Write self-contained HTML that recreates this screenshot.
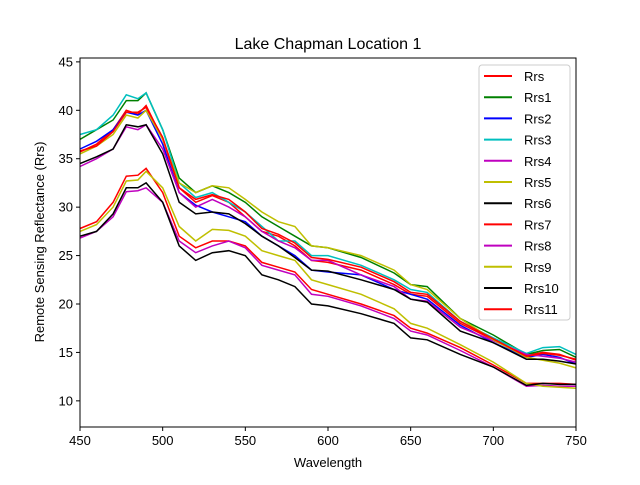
<!DOCTYPE html>
<html><head><meta charset="utf-8"><style>
body{margin:0;background:#fff}
svg{font-family:"Liberation Sans","DejaVu Sans",sans-serif}
</style></head><body>
<svg width="640" height="480" viewBox="0 0 640 480">
<rect width="640" height="480" fill="#fff"/>
<text x="328" y="49" text-anchor="middle" font-size="16">Lake Chapman Location 1</text>
<g id="plot"></g>
<g id="axes"></g>
<text x="328" y="467" text-anchor="middle" font-size="13">Wavelength</text>
<text transform="translate(44,242) rotate(-90)" text-anchor="middle" font-size="13">Remote Sensing Reflectance (Rrs)</text>
<g id="legend"></g>
</svg>
<script>
const wl=[450,460,470,478,485,490,500,510,520,530,540,550,560,570,580,590,600,620,640,650,660,680,700,720,730,740,750];
const names=["Rrs","Rrs1","Rrs2","Rrs3","Rrs4","Rrs5","Rrs6","Rrs7","Rrs8","Rrs9","Rrs10","Rrs11"];
const Rrs=[35.7,36.5,38,40,39.6,40.5,37,32,30.5,31.2,30.5,29,27.5,27,26,24.5,24.3,23.5,22,21,20.8,18,16.3,14.7,15,14.8,14.2];
const Rrs1=[37,38,39,41,41,41.8,38,33,31.5,32.2,31.5,30.5,29,28,27,26,25.8,24.8,23.2,22,21.8,18.5,16.8,14.8,15.2,15.3,14.5];
const Rrs2=[36,36.8,38,39.8,39.5,40,36.5,31.5,30.2,29.5,29,28.5,27,26,25,23.5,23.3,23,21.5,21,20.5,17.8,16,14.5,14.8,14.5,13.8];
const Rrs3=[37.5,38,39.5,41.6,41.2,41.8,38,32.5,31,31.5,30.5,29.5,28,26.5,26.5,25,25,24,22.5,21.5,21.2,18.2,16.5,14.9,15.5,15.6,14.8];
const Rrs4=[34.2,35,36,38.3,38,38.5,36,31.5,30,30.8,30,29,27.5,26.5,25.8,24.5,24.5,23,21.8,20.5,20.3,17.6,16.2,14.8,14.6,14.4,14];
const Rrs5=[35.5,36.3,37.5,39.5,39.2,40,37,32.5,31.5,32.2,32,30.8,29.5,28.5,28,26,25.8,25,23.5,22,21.5,18.5,16.3,14.5,14.2,13.9,13.4];
const Rrs6=[34.5,35.2,36,38.5,38.3,38.5,35.5,30.5,29.3,29.5,29.3,28.3,27,26,24.8,23.5,23.4,22.5,21.5,20.5,20.2,17.2,16,14.3,14.3,14.1,13.8];
const Rrs7=[27.8,28.5,30.5,33.2,33.3,34,31.5,27,25.8,26.5,26.5,26,24.3,23.8,23.3,21.5,21,20,18.8,17.5,17,15.5,13.7,11.8,11.8,11.8,11.7];
const Rrs8=[26.8,27.5,29,31.6,31.7,32,30.5,26.5,25.3,26,26.5,25.8,24,23.5,23,21,20.8,19.8,18.5,17.2,16.8,15.2,13.5,11.5,11.6,11.5,11.5];
const Rrs9=[27.5,28.2,30,32.7,32.8,33.7,32,28,26.5,27.7,27.6,27,25.5,25,24.5,22.5,22,21,19.5,18,17.5,15.8,14,11.8,11.5,11.4,11.3];
const Rrs10=[27,27.5,29.3,32,32,32.5,30.5,26,24.5,25.3,25.5,25,23,22.5,21.8,20,19.8,19,18,16.5,16.3,14.8,13.5,11.6,11.8,11.7,11.7];
const Rrs11=[35.8,36.3,37.8,39.8,39.8,40.3,37.2,32,30.8,31.3,30.8,29.5,27.8,27.2,26.3,24.8,24.6,23.8,22.3,21.2,21,18.2,16.4,14.6,14.9,14.7,14.3];
const series=[Rrs,Rrs1,Rrs2,Rrs3,Rrs4,Rrs5,Rrs6,Rrs7,Rrs8,Rrs9,Rrs10,Rrs11];
const xTicks=[450,500,550,600,650,700,750];
const yTicks=[10,15,20,25,30,35,40,45];
const colors=["#ff0000","#008000","#0000ff","#00bfbf","#bf00bf","#bfbf00","#000000","#ff0000","#bf00bf","#bfbf00","#000000","#ff0000"];
const L=80,R=576,T=58,B=427,x0=450,x1=750,y0=7.3,y1=45.4;
const sx=v=>L+(v-x0)/(x1-x0)*(R-L);
const sy=v=>B-(v-y0)/(y1-y0)*(B-T);
const NS="http://www.w3.org/2000/svg";
function mk(t,a,p){const e=document.createElementNS(NS,t);for(const k in a)e.setAttribute(k,a[k]);p.appendChild(e);return e;}
const plot=document.getElementById('plot'),axes=document.getElementById('axes'),leg=document.getElementById('legend');
series.forEach((s,i)=>{
  const p=mk('polyline',{points:s.map((v,j)=>sx(wl[j]).toFixed(1)+','+sy(v).toFixed(1)).join(' '),fill:'none',stroke:colors[i],'stroke-width':1.5},plot);
  
  
});
const fr=mk('rect',{x:L,y:T,width:R-L,height:B-T,fill:'none',stroke:'#000','stroke-width':1},axes);


xTicks.forEach(v=>{
  mk('line',{x1:sx(v),x2:sx(v),y1:B,y2:B+4,stroke:'#000'},axes);
  const t=mk('text',{x:sx(v),y:B+18,'text-anchor':'middle','font-size':13},axes);t.textContent=v;
  
  
});
yTicks.forEach(v=>{
  mk('line',{x1:L-4,x2:L,y1:sy(v),y2:sy(v),stroke:'#000'},axes);
  const t=mk('text',{x:L-7,y:sy(v)+4.5,'text-anchor':'end','font-size':13},axes);t.textContent=v;
  
  
});
const lb=mk('rect',{x:479,y:65,width:91,height:255,rx:3,fill:'#fff','fill-opacity':0.8,stroke:'#ccc'},leg);


names.forEach((n,i)=>{
  const y=76+i*21.2;
  const g=mk('g',{},leg);
  
  
  mk('line',{x1:484,x2:512,y1:y,y2:y,stroke:colors[i],'stroke-width':2},g);
  const t=mk('text',{x:524,y:y+5,'font-size':13},g);t.textContent=n;
});
</script>
</body></html>
